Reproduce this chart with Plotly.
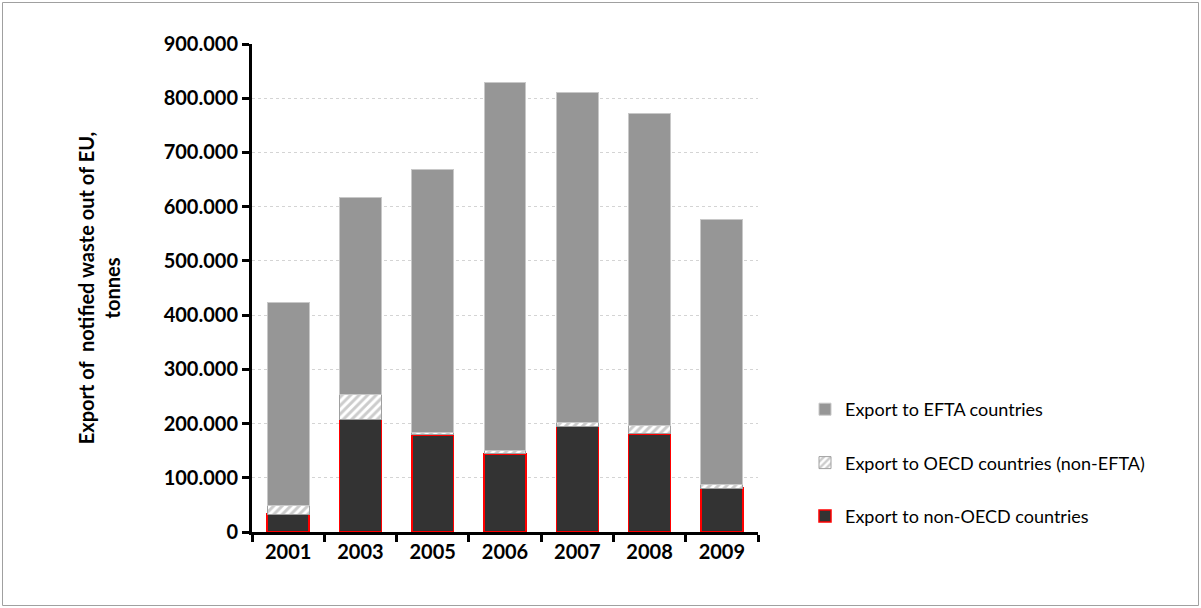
import plotly.graph_objects as go

years = ["2001", "2003", "2005", "2006", "2007", "2008", "2009"]
non_oecd = [33000, 208000, 179000, 144000, 195000, 181000, 81000]
oecd_non_efta = [15000, 45000, 5000, 6000, 7000, 16000, 6000]
efta = [375000, 363000, 485000, 679000, 609000, 575000, 489000]
y_ticks = [0, 100000, 200000, 300000, 400000, 500000, 600000, 700000, 800000, 900000]

W, H = 1201, 608
L, R, T, B = 252, 443, 44, 76
pw, ph = W - L - R, H - T - B

FONT = "Lato"

fig = go.Figure()
fig.add_trace(go.Bar(
    x=years, y=non_oecd, name="Export to non-OECD countries",
    marker=dict(color="#333333", line=dict(color="#ff0000", width=1.5)),
    legendgroup="c", legendrank=3,
))
fig.add_trace(go.Bar(
    x=years, y=oecd_non_efta, name="Export to OECD countries (non-EFTA)",
    marker=dict(color="#ffffff", line=dict(color="#a0a0a0", width=1),
                pattern=dict(shape="/", fgcolor="#9a9a9a", bgcolor="#ffffff", size=6, solidity=0.5)),
    legendgroup="b", legendrank=2,
))
fig.add_trace(go.Bar(
    x=years, y=efta, name="Export to EFTA countries",
    marker=dict(color="#969696", line=dict(color="#c8c8c8", width=1)),
    legendgroup="a", legendrank=1,
))

def px_x(p):
    return (p - L) / pw

def px_y(p):
    return (H - B - p) / ph

fig.update_layout(
    width=W, height=H,
    margin=dict(l=L, r=R, t=T, b=B, autoexpand=False),
    barmode="stack", bargap=0.42,
    separators=",.",
    paper_bgcolor="white", plot_bgcolor="white",
    font=dict(family=FONT, color="black"),
    showlegend=True,
    legend=dict(
        x=px_x(805), y=px_y(391), xanchor="left", yanchor="top",
        traceorder="grouped", tracegroupgap=27,
        font=dict(family=FONT, size=18, color="black"),
        itemwidth=30, bgcolor="rgba(0,0,0,0)",
    ),
    xaxis=dict(
        showline=True, linecolor="black", linewidth=3,
        ticks="outside", tickson="boundaries", ticklen=7, tickwidth=3, tickcolor="black",
        tickfont=dict(family=FONT, size=20, color="black", weight="bold"),
        showgrid=False, range=[-0.5, 6.5],
    ),
    yaxis=dict(
        range=[0, 900000], tickvals=y_ticks, tickformat=",d",
        showline=True, linecolor="black", linewidth=3,
        ticks="outside", ticklen=7, tickwidth=3, tickcolor="black",
        tickfont=dict(family=FONT, size=20, color="black", weight="bold"),
        showgrid=True, gridcolor="#d4d4d4", gridwidth=1, griddash="dot",
        zeroline=False,
        title=dict(text="Export of  notified waste out of EU,<br>tonnes",
                   font=dict(family=FONT, size=20, color="black", weight="bold"),
                   standoff=38),
    ),
    shapes=[dict(
        type="rect", xref="paper", yref="paper",
        x0=px_x(2.5), x1=px_x(W - 2.5), y0=px_y(H - 2.5), y1=px_y(2.5),
        line=dict(color="#a0a0a0", width=1), fillcolor="rgba(0,0,0,0)", layer="below",
    )],
)

fig.write_html("out.html",
               config=dict(displayModeBar=False),
               post_script="document.body.style.margin='0';document.body.style.overflow='hidden';")
